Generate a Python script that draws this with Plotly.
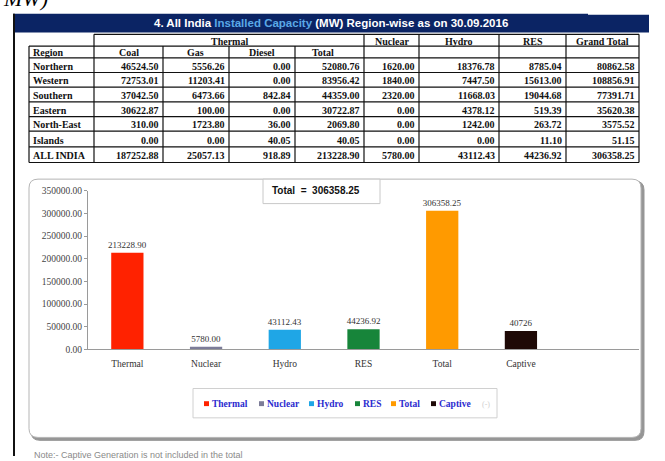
import plotly.graph_objects as go

W, H = 665, 461

# ---------------- data ----------------
regions = ["Northern", "Western", "Southern", "Eastern", "North-East", "Islands", "ALL INDIA"]
coal = [46524.50, 72753.01, 37042.50, 30622.87, 310.00, 0.00, 187252.88]
gas = [5556.26, 11203.41, 6473.66, 100.00, 1723.80, 0.00, 25057.13]
diesel = [0.00, 0.00, 842.84, 0.00, 36.00, 40.05, 918.89]
thermal_total = [52080.76, 83956.42, 44359.00, 30722.87, 2069.80, 40.05, 213228.90]
nuclear = [1620.00, 1840.00, 2320.00, 0.00, 0.00, 0.00, 5780.00]
hydro = [18376.78, 7447.50, 11668.03, 4378.12, 1242.00, 0.00, 43112.43]
res = [8785.04, 15613.00, 19044.68, 519.39, 263.72, 11.10, 44236.92]
grand_total = [80862.58, 108856.91, 77391.71, 35620.38, 3575.52, 51.15, 306358.25]

sub_headers = ["Region", "Coal", "Gas", "Diesel", "Total"]
top_headers = ["Nuclear", "Hydro", "RES", "Grand Total"]

categories = ["Thermal", "Nuclear", "Hydro", "RES", "Total", "Captive"]
capacity = [213228.90, 5780.00, 43112.43, 44236.92, 306358.25, 40726]
value_labels = ["213228.90", "5780.00", "43112.43", "44236.92", "306358.25", "40726"]
bar_colors = ["#ff2200", "#7c7c98", "#1fa6e6", "#17853a", "#ff9a00", "#1e0906"]
y_ticks = [0, 50000, 100000, 150000, 200000, 250000, 300000, 350000]

title_total = "Total  =  306358.25"
note_text = "Note:- Captive Generation is not included in the total"


# ---------------- helpers ----------------
def X(px):
    return px / W


def Y(py):
    return 1 - py / H


shapes = []
annotations = []


def line(x0, y0, x1, y1, color="#111", width=1.2, layer="above"):
    shapes.append(dict(type="line", xref="paper", yref="paper",
                       x0=X(x0), y0=Y(y0), x1=X(x1), y1=Y(y1),
                       line=dict(color=color, width=width), layer=layer))


def rect(x0, y0, x1, y1, fill, lc=None, lw=0, layer="above"):
    shapes.append(dict(type="rect", xref="paper", yref="paper",
                       x0=X(x0), y0=Y(y0), x1=X(x1), y1=Y(y1),
                       fillcolor=fill,
                       line=dict(color=lc or fill, width=lw), layer=layer))


def rrect(x0, y0, x1, y1, r, fill, lc, lw, layer="below"):
    p = (f"M {X(x0 + r)},{Y(y0)} L {X(x1 - r)},{Y(y0)} "
         f"Q {X(x1)},{Y(y0)} {X(x1)},{Y(y0 + r)} L {X(x1)},{Y(y1 - r)} "
         f"Q {X(x1)},{Y(y1)} {X(x1 - r)},{Y(y1)} L {X(x0 + r)},{Y(y1)} "
         f"Q {X(x0)},{Y(y1)} {X(x0)},{Y(y1 - r)} L {X(x0)},{Y(y0 + r)} "
         f"Q {X(x0)},{Y(y0)} {X(x0 + r)},{Y(y0)} Z")
    shapes.append(dict(type="path", xref="paper", yref="paper", path=p,
                       fillcolor=fill, line=dict(color=lc, width=lw), layer=layer))


def text(x, y, s, size=10, color="#111", family="Liberation Serif",
         xanchor="center", yanchor="middle"):
    annotations.append(dict(xref="paper", yref="paper", x=X(x), y=Y(y), text=s,
                            showarrow=False, xanchor=xanchor, yanchor=yanchor,
                            font=dict(size=size, color=color, family=family)))


# ---------------- page decorations ----------------
text(1, 8, "<i>MW)</i>", size=22, color="#000", family="Liberation Serif",
     xanchor="left", yanchor="bottom")
rect(13, 9, 649, 28, "#0b2464")
rect(588, 0, 665, 10, "#ffffff")
line(14, 9, 14, 461, color="#111", width=2)
text(331, 18.5,
     "<b>4. All India <span style='color:#5aa8e6'>Installed Capacity</span> "
     "(MW) Region-wise as on 30.09.2016</b>",
     size=11.5, color="#ffffff", family="Liberation Sans")

# ---------------- table ----------------
col_x = [29, 94, 163, 229, 295, 364, 419, 499, 566, 639]
row_y = [30, 42, 54, 69, 84, 99, 114, 129, 145, 161]

# horizontal lines
line(col_x[1], row_y[0], col_x[-1], row_y[0])
for yy in row_y[1:]:
    line(col_x[0], yy, col_x[-1], yy)
# vertical lines
line(col_x[0], row_y[1], col_x[0], row_y[-1])
for xx in col_x[1:]:
    top = row_y[0] if xx in (col_x[1], col_x[5], col_x[6], col_x[7], col_x[8], col_x[9]) else row_y[1]
    line(xx, top, xx, row_y[-1])

hfont = 10
# header row 1
text((col_x[1] + col_x[5]) / 2, (row_y[0] + row_y[1]) / 2 + 1, "<b>Thermal</b>", size=hfont)
for j, h in enumerate(top_headers):
    text((col_x[5 + j] + col_x[6 + j]) / 2, (row_y[0] + row_y[1]) / 2 + 1, f"<b>{h}</b>", size=hfont)
# header row 2
text(col_x[0] + 2, (row_y[1] + row_y[2]) / 2 + 1, f"<b>{sub_headers[0]}</b>", size=hfont, xanchor="left")
for j, h in enumerate(sub_headers[1:]):
    cx = (col_x[1 + j] + col_x[2 + j]) / 2
    if h == "Total":
        cx = col_x[4] + 28
    text(cx, (row_y[1] + row_y[2]) / 2 + 1, f"<b>{h}</b>", size=hfont)

columns = [coal, gas, diesel, thermal_total, nuclear, hydro, res, grand_total]
for i, reg in enumerate(regions):
    yc = (row_y[2 + i] + row_y[3 + i]) / 2 + 1
    text(col_x[0] + 2, yc, f"<b>{reg}</b>", size=hfont, xanchor="left")
    for j, col in enumerate(columns):
        text(col_x[2 + j] - 2, yc, f"<b>{col[i]:.2f}</b>", size=hfont, xanchor="right")

# ---------------- chart frame ----------------
rrect(31, 180, 644, 445, 9, "#969696", "#969696", 1)
rrect(29, 178, 641, 442, 9, "#ffffff", "#b5b5b5", 1)

# total box
rect(263, 178, 380, 203, "#ffffff", lc="#c8c8c8", lw=1)
text(270, 189.5, f"<b>{title_total}</b>", size=10, color="#111",
     family="Liberation Sans", xanchor="left")

# legend (manual, compact like the reference)
rect(193, 392, 497, 422, "#ffffff", lc="#d0d0d0", lw=1)
leg_x = [204, 259, 309, 355, 391, 431]
for name, c, lx in zip(categories, bar_colors, leg_x):
    rect(lx, 405, lx + 5, 410, c)
    text(lx + 6, 408, f"<b>{name}</b>", size=9.5, color="#2b2bcf", xanchor="left")
text(480, 408, "(-)", size=8, color="#d0d0d0", xanchor="left")

# note (cut by the page edge as in the reference)
text(32, 460, note_text, size=9, color="#8a8a8a", family="Liberation Sans",
     xanchor="left", yanchor="middle")

# ---------------- bar chart ----------------
fig = go.Figure()
fig.add_trace(go.Bar(
    x=categories, y=capacity,
    marker=dict(color=bar_colors, line=dict(width=0)),
    width=0.41,
    text=value_labels, textposition="outside", constraintext="none",
    textfont=dict(family="Liberation Serif", size=9, color="#333"),
    cliponaxis=False, showlegend=False,
))

fig.update_layout(
    width=W, height=H, autosize=False,
    margin=dict(l=0, r=0, t=0, b=0),
    paper_bgcolor="#ffffff", plot_bgcolor="rgba(0,0,0,0)",
    shapes=shapes, annotations=annotations,
    showlegend=False,
    xaxis=dict(domain=[X(88), X(639)], range=[-0.5, 6.5], type="category",
               categoryorder="array", categoryarray=categories,
               showline=True, linecolor="#9a9a9a", linewidth=1,
               showgrid=False, zeroline=False, ticks="",
               ticklabelstandoff=5,
               tickfont=dict(family="Liberation Serif", size=9.5, color="#333")),
    yaxis=dict(domain=[Y(352), Y(190)], range=[0, 350000],
               tickvals=y_ticks, tickformat=".2f",
               showline=True, linecolor="#9a9a9a", linewidth=1,
               ticks="outside", ticklen=3, tickcolor="#9a9a9a",
               showgrid=False, zeroline=False,
               tickfont=dict(family="Liberation Serif", size=9.5, color="#444")),
)

fig.write_html("out.html", config={"displayModeBar": False},
               post_script="document.body.style.margin='0';document.body.style.overflow='hidden';")
